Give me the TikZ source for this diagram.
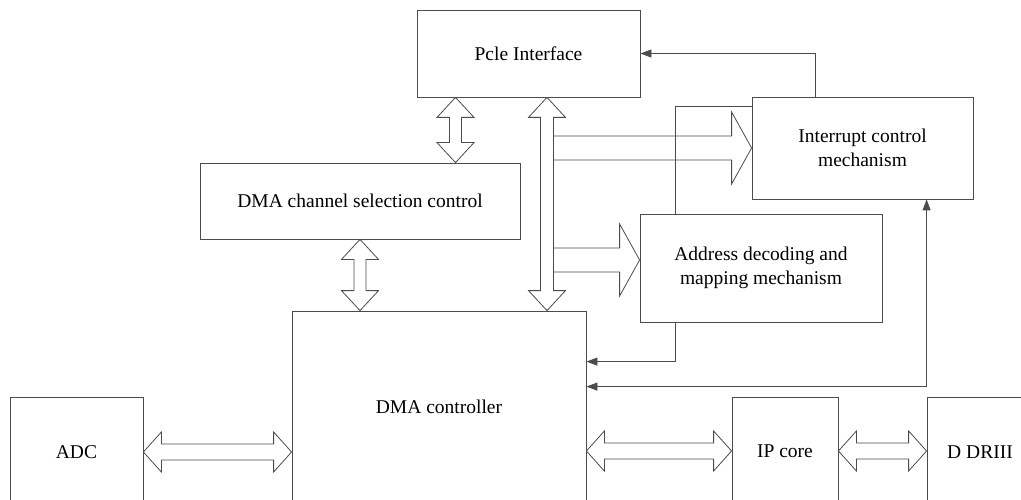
\documentclass[tikz,border=0pt]{standalone}
\usepackage{fontspec}
\setmainfont{Liberation Serif}
\usetikzlibrary{calc, arrows.meta}

\tikzset{
  blk/.style={draw=black!70, line width=0.8pt, fill=white, inner sep=0pt, align=center,
    font=\fontsize{19.5}{24}\selectfont},
  bus/.style={draw=black!70, line width=0.8pt, fill=white},
  sig/.style={draw=black!70, line width=0.8pt},
  tip/.style={-{Triangle[length=11pt,width=8pt]}},
  tips/.style={{Triangle[length=11pt,width=8pt]}-{Triangle[length=11pt,width=8pt]}}
}

% double block arrow, left end #1, right end #2
\newcommand{\hbus}[2]{%
  \draw[bus] let \p1=(#1), \p2=(#2) in
    (\x1,\y1) -- (\x1+18pt,\y1+20pt) -- (\x1+18pt,\y1+8pt) -- (\x2-18pt,\y1+8pt)
    -- (\x2-18pt,\y1+20pt) -- (\x2,\y1) -- (\x2-18pt,\y1-20pt) -- (\x2-18pt,\y1-8pt)
    -- (\x1+18pt,\y1-8pt) -- (\x1+18pt,\y1-20pt) -- cycle;}
% double block arrow, top end #1, bottom end #2, half shaft #3
\newcommand{\vbus}[3]{%
  \draw[bus] let \p1=(#1), \p2=(#2) in
    (\x1,\y1) -- (\x1+18.5pt,\y1-20pt) -- (\x1+#3,\y1-20pt) -- (\x1+#3,\y2+20pt)
    -- (\x1+18.5pt,\y2+20pt) -- (\x1,\y2) -- (\x1-18.5pt,\y2+20pt) -- (\x1-#3,\y2+20pt)
    -- (\x1-#3,\y1-20pt) -- (\x1-18.5pt,\y1-20pt) -- cycle;}
% block arrow leaving the bus at #1, tip at #2
\newcommand{\busto}[2]{%
  \draw[bus] let \p1=(#1), \p2=(#2) in
    (\x1,\y2+12pt) -- (\x2-20pt,\y2+12pt) -- (\x2-20pt,\y2+36pt) -- (\x2,\y2)
    -- (\x2-20pt,\y2-36pt) -- (\x2-20pt,\y2-12pt) -- (\x1,\y2-12pt);}

\begin{document}
\begin{tikzpicture}[x=1pt,y=-1pt]
\useasboundingbox (0,0) rectangle (1021,500);
\clip (0,0) rectangle (1021,500);

% blocks
\node[blk, minimum width=223pt, minimum height=87pt] (pcie) at (528.5,53.5) {Pcle Interface};
\node[blk, minimum width=221pt, minimum height=102pt] (int) at (862.5,148) {Interrupt control\\mechanism};
\node[blk, minimum width=320pt, minimum height=76pt] (chsel) at (360,201) {DMA channel selection control};
\node[blk, minimum width=242pt, minimum height=108pt] (addr) at (761,268) {Address decoding and\\mapping mechanism};
\node[blk, minimum width=294pt, minimum height=192pt] (dma) at (439,407) {DMA controller};
\node[blk, minimum width=133pt, minimum height=110pt] (adc) at (76.5,452) {ADC};
\node[blk, minimum width=106pt, minimum height=108pt] (ip) at (785,451) {IP core};
\node[blk, minimum width=106pt, minimum height=110pt] (ddr) at (980,452) {D DRIII};

% data bus
\coordinate (bustop) at ($(pcie.south)+(18.5,0)$);
\coordinate (busbot) at (bustop |- dma.north);
\coordinate (busedge) at ($(bustop)+(6.5,0)$);
\coordinate (addrin) at ($(addr.west)+(0,-8)$);
\busto{busedge}{int.west}
\busto{busedge}{addrin}
\vbus{bustop}{busbot}{6.5pt}

\coordinate (pcsel) at ($(pcie.south)+(-73,0)$);
\vbus{pcsel}{pcsel |- chsel.north}{6pt}
\vbus{chsel.south}{chsel.south |- dma.north}{6pt}

\hbus{adc.east}{dma.west |- adc.east}
\hbus{dma.east |- ip.west}{ip.west}
\hbus{ip.east}{ddr.west}

% control lines
\coordinate (irqup) at ($(int.north west)+(64,0)$);
\draw[sig, tip] (irqup) |- (pcie.east);
\coordinate (irqleft) at ($(int.north west)+(0,10)$);
\coordinate (adrtop) at ($(addr.north west)+(36,0)$);
\draw[sig] (irqleft) -| (adrtop);
\coordinate (adrbot) at (adrtop |- addr.south);
\coordinate (dmain1) at ($(dma.north east)+(0,51)$);
\draw[sig, tip] (adrbot) |- (dmain1);
\coordinate (irqdown) at ($(int.south west)+(175,0)$);
\coordinate (dmain2) at ($(dma.north east)+(0,76)$);
\draw[sig, tips] (irqdown) |- (dmain2);
\end{tikzpicture}
\end{document}
